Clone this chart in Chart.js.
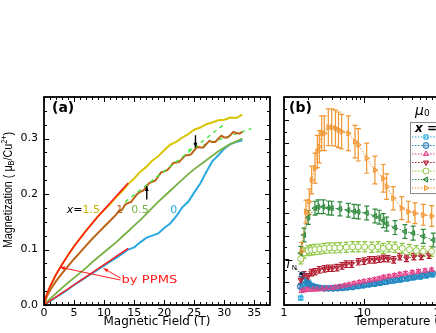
<!DOCTYPE html>
<html><head><meta charset="utf-8">
<script src="https://cdn.jsdelivr.net/npm/chart.js@4.4.0/dist/chart.umd.min.js"></script>
<style>
html,body{margin:0;padding:0;overflow:hidden;background:#fff;width:436px;height:333px;}
#ca{position:absolute;left:0;top:0;}
#cb{position:absolute;left:276px;top:0;}
</style></head><body>
<canvas id="ca" width="280" height="333" style="width:280px;height:333px"></canvas>
<canvas id="cb" width="270" height="333" style="width:270px;height:333px"></canvas>
<script>
// ---------- Panel (a): magnetization vs field ----------
const fieldTicksA = [0,5,10,15,20,25,30,35];
const magTicksA = [0,0.1,0.2,0.3];

const fieldX15 = [0,0.3,0.6,1,1.5,2,2.5,3,4,5,6,7,8,9,10,11,12,13,14,15,16,17,18,19,20,21,22,23,24,25,26,27,28,29,30,31,32,33];
const magX15   = [0,0.014,0.023,0.033,0.044,0.055,0.064,0.073,0.09,0.106,0.12,0.134,0.147,0.16,0.171,0.182,0.194,0.205,0.218,0.228,0.24,0.249,0.26,0.268,0.279,0.289,0.294,0.302,0.308,0.316,0.32,0.326,0.329,0.333,0.334,0.338,0.337,0.343];

const fieldPPMS15 = [0,0.3,0.6,1,1.5,2,2.5,3,4,5,6,7,8,9,10,11,12,13,14];
const magPPMS15   = [0,0.014,0.023,0.033,0.044,0.055,0.064,0.073,0.09,0.106,0.12,0.134,0.147,0.16,0.172,0.184,0.196,0.208,0.22];

const fieldX1 = [0,0.5,1,1.5,2,3,4,5,6,7,8,9,10,11,12,12.5,13,13.5,14,14.5,15,15.5,16,16.5,17,17.5,18,18.5,19,19.5,20,20.5,21,21.5,22,22.5,23,23.5,24,24.5,25,25.5,26,26.5,27,27.5,28,28.5,29,29.5,30,30.5,31,31.5,32,32.5,33];
const magX1   = [0,0.016,0.026,0.035,0.043,0.057,0.07,0.083,0.095,0.107,0.119,0.13,0.141,0.152,0.163,0.17,0.172,0.181,0.184,0.186,0.193,0.2,0.204,0.206,0.213,0.22,0.222,0.224,0.232,0.239,0.241,0.243,0.249,0.256,0.257,0.258,0.264,0.27,0.27,0.272,0.279,0.285,0.284,0.284,0.29,0.296,0.294,0.294,0.3,0.305,0.302,0.302,0.306,0.312,0.31,0.309,0.312];

const fieldX05 = [0,1,2,3,4,5,6,7,8,9,10,11,12,13,14,15,16,17,18,19,20,21,22,23,24,25,26,27,28,29,30,31,32,33];
const magX05   = [0,0.011,0.021,0.031,0.04,0.049,0.058,0.067,0.077,0.086,0.095,0.104,0.113,0.123,0.133,0.143,0.153,0.164,0.175,0.186,0.196,0.206,0.216,0.226,0.236,0.245,0.253,0.261,0.269,0.277,0.284,0.29,0.295,0.3];

const fieldX0 = [0,1,2,3,4,5,6,7,8,9,10,11,12,13,14,15,16,17,18,19,20,21,22,23,24,25,26,27,28,29,30,31,32,33];
const magX0   = [0,0.007,0.014,0.021,0.028,0.036,0.043,0.05,0.057,0.064,0.071,0.078,0.085,0.092,0.1,0.104,0.113,0.121,0.125,0.129,0.139,0.147,0.16,0.176,0.186,0.203,0.219,0.24,0.259,0.27,0.282,0.29,0.294,0.297];

const fieldPPMS0 = [0,14];
const magPPMS0   = [0,0.102];

// dashed linear guides
const fieldFit1 = [13.5,30];
const magFit1   = [0.186,0.326];
const fieldFit2 = [24,34.5];
const magFit2   = [0.279,0.318];

// ---------- Panel (b): temperature dependence ----------
const tempTicksB = [1,10,100];
const labelsB = ['0','0.1','0.25','0.5','0.75','1','1.5'];

const tempLB = [1.62,1.7,1.8,1.92,2.05,2.25,2.5,2.8,3.2,3.7,4.3,5.0,5.8,6.8,8,9.5,11.3,13.5,16,19,23,28,34,41,50,60,72];
const valLB  = [0.03,0.075,0.09,0.1,0.095,0.085,0.078,0.074,0.072,0.072,0.072,0.073,0.075,0.077,0.08,0.083,0.087,0.09,0.094,0.098,0.102,0.107,0.112,0.117,0.12,0.125,0.13];
const errLB  = 0.008;

const tempSB = [1.6,1.7,1.85,2.0,2.2,2.5,2.8,3.2,3.6,4.1,4.7,5.4,6.2,7.2,8.5,10,11.7,13.5,15.5,18,21,25,30,36,43,52,62,72];
const valSB  = [0.08,0.13,0.105,0.09,0.082,0.077,0.074,0.072,0.072,0.072,0.073,0.074,0.076,0.078,0.082,0.086,0.09,0.093,0.096,0.1,0.105,0.109,0.113,0.117,0.122,0.127,0.132,0.137];
const errSB  = 0.008;

const tempPK = [1.66,1.8,2.0,2.3,2.6,3.0,3.4,3.9,4.4,5.0,5.7,6.5,7.5,8.7,10,11.7,13.5,15.5,17.6,20.5,24,28,33,40,48,58,70];
const valPK  = [0.062,0.065,0.067,0.068,0.069,0.07,0.072,0.074,0.077,0.08,0.084,0.088,0.093,0.098,0.102,0.106,0.11,0.114,0.12,0.124,0.128,0.133,0.137,0.141,0.145,0.148,0.152];
const errPK  = 0.008;

const tempDR = [1.62,1.78,2.0,2.2,2.44,2.76,3.2,3.6,4.0,4.6,5.3,6.0,7.0,8.5,10.0,11.7,13.5,15.5,17.6,20,23.5,28,34,42,52,65];
const valDR  = [0.108,0.13,0.122,0.14,0.144,0.152,0.156,0.159,0.159,0.162,0.169,0.177,0.177,0.187,0.19,0.195,0.195,0.198,0.202,0.2,0.195,0.209,0.202,0.209,0.21,0.216];
const errDR  = 0.014;

const tempLG = [1.62,1.78,2.0,2.2,2.44,2.8,3.2,3.7,4.3,5.0,6.0,7.2,8.5,10.2,12.5,15,17.4,20.5,24.4,30,37,45,55,70];
const valLG  = [0.2,0.225,0.235,0.238,0.24,0.242,0.245,0.247,0.247,0.248,0.25,0.252,0.252,0.252,0.25,0.252,0.245,0.252,0.25,0.245,0.24,0.235,0.232,0.232];
const errLG  = 0.022;

const tempDG = [1.62,1.78,2.01,2.44,2.68,3.1,3.6,3.95,5.0,6.37,7.5,8.49,10.8,13.7,15.5,17.4,19.2,24.4,32.5,41.1,55.1,73.5];
const valDG  = [0.224,0.303,0.379,0.419,0.425,0.425,0.42,0.419,0.416,0.41,0.405,0.403,0.398,0.385,0.38,0.365,0.35,0.335,0.318,0.311,0.297,0.281];
const errDG  = 0.03;

const tempOR = [1.66,1.88,2.07,2.22,2.44,2.61,2.76,2.96,3.19,3.58,3.95,4.4,4.8,5.26,6.37,7.72,8.49,10.8,13.7,17.4,19.2,23.2,29.6,35.8,43.4,55.1,70.2];
const valOR  = [0.231,0.404,0.447,0.541,0.592,0.664,0.685,0.743,0.743,0.769,0.769,0.765,0.758,0.75,0.743,0.707,0.693,0.635,0.584,0.548,0.512,0.462,0.419,0.404,0.397,0.39,0.385];
const errOR  = [0.04,0.05,0.055,0.06,0.065,0.07,0.07,0.075,0.075,0.08,0.08,0.078,0.077,0.075,0.075,0.07,0.07,0.065,0.06,0.06,0.055,0.05,0.05,0.045,0.045,0.045,0.045];

// ---------- helpers ----------
const pts = (xs, ys) => xs.map((v, i) => ({x: v, y: ys[i]}));
const FONT = "'DejaVu Sans', sans-serif";
const LIB = "'Liberation Sans', Arial, sans-serif";

function frameAndTicks(chart, xt, yt) {
  const {ctx, chartArea: a, scales: {x, y}} = chart;
  ctx.save();
  ctx.strokeStyle = '#000';
  ctx.lineWidth = 1;
  ctx.beginPath();
  for (const t of xt) {
    const p = Math.round(x.getPixelForValue(t.v)) + 0.5;
    if (p < a.left - 0.5 || p > a.right + 0.5) continue;
    ctx.moveTo(p, a.bottom); ctx.lineTo(p, a.bottom - t.l);
    ctx.moveTo(p, a.top); ctx.lineTo(p, a.top + t.l);
  }
  for (const t of yt) {
    const p = Math.round(y.getPixelForValue(t.v)) + 0.5;
    if (p < a.top - 0.5 || p > a.bottom + 0.5) continue;
    ctx.moveTo(a.left, p); ctx.lineTo(a.left + t.l, p);
    ctx.moveTo(a.right, p); ctx.lineTo(a.right - t.l, p);
  }
  ctx.stroke();
  ctx.lineWidth = 1.8;
  ctx.strokeRect(a.left, a.top, a.right - a.left, a.bottom - a.top);
  ctx.restore();
}

function arrow(ctx, x0, y0, x1, y1, color, lw, head, dash) {
  ctx.save();
  ctx.strokeStyle = color; ctx.fillStyle = color; ctx.lineWidth = lw;
  if (dash) ctx.setLineDash(dash);
  ctx.beginPath(); ctx.moveTo(x0, y0); ctx.lineTo(x1, y1); ctx.stroke();
  ctx.setLineDash([]);
  const ang = Math.atan2(y1 - y0, x1 - x0);
  ctx.beginPath();
  ctx.moveTo(x1, y1);
  ctx.lineTo(x1 - head * Math.cos(ang - 0.4), y1 - head * Math.sin(ang - 0.4));
  ctx.lineTo(x1 - head * Math.cos(ang + 0.4), y1 - head * Math.sin(ang + 0.4));
  ctx.closePath(); ctx.fill();
  ctx.restore();
}

function runs(ctx, parts, x, y) {
  let cx = x;
  for (const [t, f, c, dy] of parts) {
    ctx.font = f; ctx.fillStyle = c;
    ctx.fillText(t, cx, y + (dy || 0));
    cx += ctx.measureText(t).width;
  }
  return cx;
}

// tick definitions (positions only)
const xTicksA = []; for (let v = 0; v <= 37; v++) xTicksA.push({v, l: v % 5 === 0 ? 5 : 3});
const yTicksA = []; for (let k = 0; k <= 15; k++) yTicksA.push({v: k * 0.025, l: k % 4 === 0 ? 5 : 3});
const xTicksB = []; for (const d of [1, 10, 100]) for (let m = 1; m <= 9; m++) xTicksB.push({v: m * d, l: m === 1 ? 6 : 3});
const yTicksB = []; for (let k = 0; k <= 18; k++) yTicksB.push({v: k * 0.05, l: k % 2 === 0 ? 5 : 3});

// ---------- chart (a) ----------
const annoA = {
  id: 'annoA',
  afterDatasetsDraw(chart) {
    const {ctx, chartArea: a, scales: {x, y}} = chart;
    ctx.save();
    ctx.textBaseline = 'middle';
    ctx.font = "bold 14px " + FONT; ctx.fillStyle = '#000';
    ctx.fillText('(a)', a.left + 8, a.top + 11);
    runs(ctx, [['x', 'italic 11px ' + FONT, '#000'], ['=', '11px ' + FONT, '#000'], ['1.5', '11px ' + FONT, '#c8b400']], x.getPixelForValue(3.8), y.getPixelForValue(0.171));
    ctx.font = '11px ' + FONT;
    ctx.fillStyle = '#b4601c'; ctx.fillText('1', x.getPixelForValue(12), y.getPixelForValue(0.171));
    ctx.fillStyle = '#77b144'; ctx.fillText('0.5', x.getPixelForValue(14.5), y.getPixelForValue(0.171));
    ctx.fillStyle = '#2aa8e0'; ctx.fillText('0', x.getPixelForValue(21), y.getPixelForValue(0.171));
    const tx = x.getPixelForValue(12.9), ty = y.getPixelForValue(0.045);
    ctx.save();
    ctx.translate(tx, ty); ctx.scale(1.25, 1);
    ctx.font = '10.5px ' + FONT; ctx.fillStyle = '#ff1a1a';
    ctx.fillText('by PPMS', 0, 0);
    ctx.restore();
    arrow(ctx, tx - 1, ty, x.getPixelForValue(2.7), y.getPixelForValue(0.068), '#ff1a1a', 1, 5);
    arrow(ctx, tx - 1, ty - 2, x.getPixelForValue(9.9), y.getPixelForValue(0.066), '#ff1a1a', 1, 5);
    arrow(ctx, x.getPixelForValue(17.1), y.getPixelForValue(0.19), x.getPixelForValue(17.1), y.getPixelForValue(0.214), '#000', 1.4, 5);
    arrow(ctx, x.getPixelForValue(25.2), y.getPixelForValue(0.306), x.getPixelForValue(25.2), y.getPixelForValue(0.284), '#000', 1.4, 5);
    ctx.restore();
    ctx.save();
    ctx.translate(9, 190);
    ctx.rotate(-Math.PI / 2);
    ctx.scale(0.86, 1);
    ctx.textBaseline = 'middle';
    const parts = [['Magnetization ( ', '12.5px ' + LIB, '#000', 0], ['\u03bc', '12.5px ' + LIB, '#000', 0], ['B', '8.5px ' + LIB, '#000', 3], ['/Cu', '12.5px ' + LIB, '#000', 0], ['2+', '8.5px ' + LIB, '#000', -4], [')', '12.5px ' + LIB, '#000', 0]];
    let w = 0; for (const p of parts) { ctx.font = p[1]; w += ctx.measureText(p[0]).width; }
    runs(ctx, parts, -w / 2, 0);
    ctx.restore();
    frameAndTicks(chart, xTicksA, yTicksA);
  }
};

new Chart(document.getElementById('ca'), {
  type: 'line',
  data: {
    datasets: [
      {label: 'PPMS 1.5', data: pts(fieldPPMS15, magPPMS15), borderColor: '#ff1a1a', borderWidth: 1.6},
      {label: 'PPMS 0', data: pts(fieldPPMS0, magPPMS0), borderColor: '#ff1a1a', borderWidth: 1.4},
      {label: 'guide 1', data: pts(fieldFit1, magFit1), borderColor: '#3ee83e', borderWidth: 1.4, borderDash: [4, 4]},
      {label: 'x=1.5', data: pts(fieldX15, magX15), borderColor: '#d9c400', borderWidth: 2},
      {label: 'x=1', data: pts(fieldX1, magX1), borderColor: '#bb6418', borderWidth: 2},
      {label: 'x=0.5', data: pts(fieldX05, magX05), borderColor: '#77b144', borderWidth: 1.8},
      {label: 'x=0', data: pts(fieldX0, magX0), borderColor: '#2aa8e0', borderWidth: 2},
      {label: 'guide 2', data: pts(fieldFit2, magFit2), borderColor: '#3ee83e', borderWidth: 1.4, borderDash: [4, 4]}
    ]
  },
  options: {
    responsive: false, animation: false, devicePixelRatio: 1,
    layout: {padding: {left: 0, top: 97, right: 10, bottom: 0}},
    elements: {point: {radius: 0}, line: {tension: 0, fill: false}},
    plugins: {legend: {display: false}, tooltip: {enabled: false}},
    scales: {
      x: {type: 'linear', min: 0, max: 37.6,
        grid: {display: false, drawTicks: false}, border: {display: false},
        afterBuildTicks: s => { s.ticks = fieldTicksA.map(v => ({value: v})); },
        afterFit: s => { s.height = 28; },
        ticks: {font: {family: "'DejaVu Sans'", size: 11}, color: '#000', padding: 2, maxRotation: 0, callback: v => String(v)},
        title: {display: true, text: 'Magnetic Field (T)', font: {family: "'DejaVu Sans'", size: 12}, color: '#000', padding: {top: 0, bottom: 4}}
      },
      y: {type: 'linear', min: 0, max: 0.375,
        grid: {display: false, drawTicks: false}, border: {display: false},
        afterBuildTicks: s => { s.ticks = magTicksA.map(v => ({value: v})); },
        afterFit: s => { s.width = 44; },
        ticks: {font: {family: "'DejaVu Sans'", size: 11}, color: '#000', padding: 6, callback: v => Number(v).toFixed(1)}
      }
    }
  },
  plugins: [annoA]
});

// ---------- chart (b) ----------
const seriesB = [
  {t: tempLB, v: valLB, e: errLB, c: '#29abe2', f: 'rgba(41,171,226,0.35)', s: 'rect', r: 0},
  {t: tempSB, v: valSB, e: errSB, c: '#2a7ab5', f: 'rgba(42,122,181,0.35)', s: 'circle', r: 0},
  {t: tempPK, v: valPK, e: errPK, c: '#e6438a', f: 'rgba(230,67,138,0.35)', s: 'triangle', r: 0},
  {t: tempDR, v: valDR, e: errDR, c: '#b31d30', f: 'rgba(179,29,48,0.45)', s: 'triangle', r: 180},
  {t: tempLG, v: valLG, e: errLG, c: '#8cc63f', f: 'rgba(255,255,255,0.9)', s: 'circle', r: 0},
  {t: tempDG, v: valDG, e: errDG, c: '#2e8a3c', f: 'rgba(46,138,60,0.45)', s: 'triangle', r: 270},
  {t: tempOR, v: valOR, e: errOR, c: '#f29530', f: 'rgba(242,149,48,0.35)', s: 'triangle', r: 90}
];

const errorBars = {
  id: 'errorBars',
  beforeDatasetsDraw(chart) {
    const {ctx, chartArea: a, scales: {x, y}} = chart;
    ctx.save();
    ctx.beginPath(); ctx.rect(a.left, a.top, a.right - a.left, a.bottom - a.top); ctx.clip();
    seriesB.forEach(sr => {
      ctx.strokeStyle = sr.c; ctx.lineWidth = 1.2;
      ctx.beginPath();
      sr.t.forEach((t, i) => {
        const e = Array.isArray(sr.e) ? sr.e[i] : sr.e;
        const px = x.getPixelForValue(t);
        const p1 = y.getPixelForValue(sr.v[i] + e), p2 = y.getPixelForValue(sr.v[i] - e);
        ctx.moveTo(px, p1); ctx.lineTo(px, p2);
        ctx.moveTo(px - 2.5, p1); ctx.lineTo(px + 2.5, p1);
        ctx.moveTo(px - 2.5, p2); ctx.lineTo(px + 2.5, p2);
      });
      ctx.stroke();
    });
    ctx.restore();
  }
};

const annoB = {
  id: 'annoB',
  afterDatasetsDraw(chart) {
    const {ctx, chartArea: a, scales: {x, y}} = chart;
    ctx.save();
    ctx.textBaseline = 'middle';
    ctx.font = "bold 14px " + FONT; ctx.fillStyle = '#000';
    ctx.fillText('(b)', a.left + 5, a.top + 11);
    runs(ctx, [['\u03bc', 'italic 14px ' + FONT, '#000', 0], ['0', '9px ' + FONT, '#000', 3], ['  H = 0.5 T', 'italic 12px ' + FONT, '#000', 0]], a.left + 131, a.top + 14);
    runs(ctx, [['T', 'italic 11px ' + FONT, '#000', 0], ['N', '7px ' + FONT, '#000', 3]], x.getPixelForValue(1.03), y.getPixelForValue(0.172));
    arrow(ctx, x.getPixelForValue(1.41), y.getPixelForValue(0.158), x.getPixelForValue(1.72), y.getPixelForValue(0.127), '#000', 1, 4, [2, 1.5]);
    const lx = a.left + 126, ly = a.top + 25;
    ctx.fillStyle = '#fff'; ctx.strokeStyle = '#888'; ctx.lineWidth = 1;
    ctx.fillRect(lx, ly, 120, 71); ctx.strokeRect(lx + 0.5, ly + 0.5, 120, 71);
    runs(ctx, [['x', 'bold italic 12px ' + FONT, '#000', 0], [' =', 'bold 12px ' + FONT, '#000', 0]], lx + 5, ly + 7);
    seriesB.forEach((sr, i) => {
      const yy = ly + 15 + i * 8.5;
      ctx.save();
      ctx.strokeStyle = sr.c; ctx.lineWidth = 1; ctx.setLineDash([1.5, 1.5]);
      ctx.beginPath(); ctx.moveTo(lx + 2, yy); ctx.lineTo(lx + 26, yy); ctx.stroke();
      ctx.setLineDash([]);
      ctx.fillStyle = sr.f; ctx.strokeStyle = sr.c;
      Chart.helpers.drawPoint(ctx, {pointStyle: sr.s, radius: 3, rotation: sr.r, borderWidth: 1}, lx + 16, yy);
      ctx.restore();
      ctx.font = '10px ' + FONT; ctx.fillStyle = '#000';
      ctx.fillText(labelsB[i], lx + 30, yy);
    });
    ctx.restore();
    frameAndTicks(chart, xTicksB, yTicksB);
  }
};

new Chart(document.getElementById('cb'), {
  type: 'line',
  data: {
    datasets: seriesB.map((sr, i) => ({
      label: 'x=' + labelsB[i],
      data: pts(sr.t, sr.v),
      borderColor: sr.c, borderWidth: 1, borderDash: [1.5, 1.5],
      pointStyle: sr.s, pointRotation: sr.r, pointRadius: 3,
      pointBackgroundColor: sr.f, pointBorderColor: sr.c, pointBorderWidth: 1
    })).reverse()
  },
  options: {
    responsive: false, animation: false, devicePixelRatio: 1,
    layout: {padding: {left: 0, top: 97, right: 24, bottom: 0}},
    elements: {line: {tension: 0, fill: false}},
    plugins: {legend: {display: false}, tooltip: {enabled: false}},
    scales: {
      x: {type: 'logarithmic', min: 1, max: 944,
        grid: {display: false, drawTicks: false}, border: {display: false},
        afterBuildTicks: s => { s.ticks = tempTicksB.map(v => ({value: v})); },
        afterFit: s => { s.height = 28; },
        ticks: {font: {family: "'DejaVu Sans'", size: 11}, color: '#000', padding: 2, maxRotation: 0, autoSkip: false, callback: v => String(v)},
        title: {display: true, text: 'Temperature (K)', font: {family: "'DejaVu Sans'", size: 12}, color: '#000', padding: {top: 0, bottom: 4}}
      },
      y: {type: 'linear', min: 0, max: 0.9,
        grid: {display: false, drawTicks: false}, border: {display: false},
        afterFit: s => { s.width = 8; },
        ticks: {display: false}
      }
    }
  },
  plugins: [errorBars, annoB]
});
</script>
</body></html>
